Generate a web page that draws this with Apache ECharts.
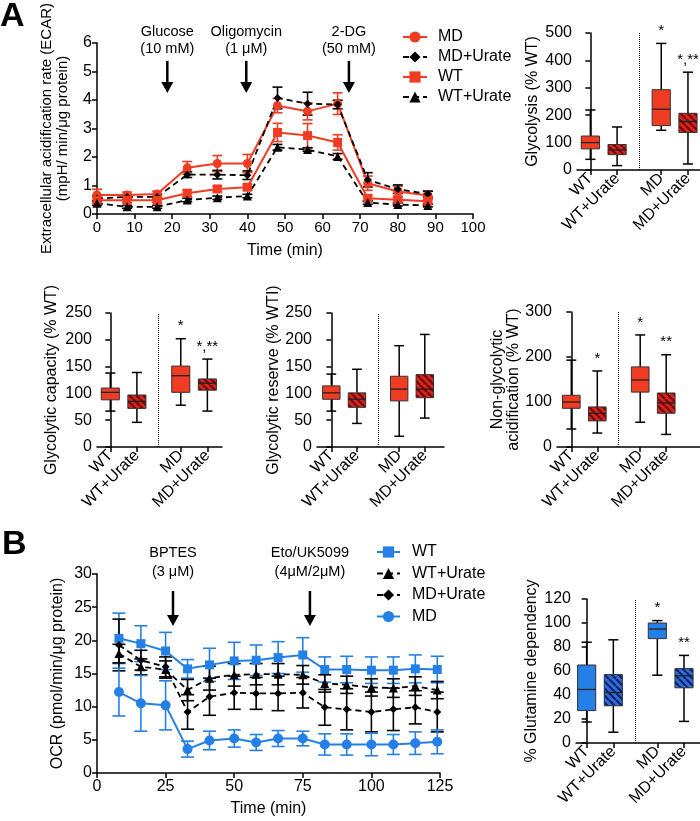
<!DOCTYPE html>
<html>
<head>
<meta charset="utf-8">
<script src="https://cdn.jsdelivr.net/npm/echarts@6.0.0/dist/echarts.min.js"></script>
<style>
html,body{margin:0;padding:0;background:#fff;}
#main{width:700px;height:821px;}
</style>
</head>
<body>
<div id="main"></div>
<script>
var FONT = '"Liberation Sans", Arial, sans-serif';
var RED = '#F03C23', BLUE = '#2580E6';

// A: ECAR time course (mpH/min/ug protein)
var ecarTime = [0, 8, 16, 24, 32, 40, 48, 56, 64, 72, 80, 88];
var ecarMD = [0.67, 0.67, 0.70, 1.62, 1.77, 1.77, 3.80, 3.60, 3.87, 1.08, 0.79, 0.65];
var ecarMDErr = [0.20, 0.10, 0.10, 0.22, 0.28, 0.32, 0.25, 0.30, 0.38, 0.25, 0.18, 0.15];
var ecarMDU = [0.54, 0.60, 0.60, 1.38, 1.38, 1.36, 4.07, 3.87, 3.84, 1.20, 0.87, 0.70];
var ecarMDUErr = [0.10, 0.08, 0.08, 0.10, 0.15, 0.15, 0.38, 0.40, 0.15, 0.25, 0.15, 0.10];
var ecarWT = [0.48, 0.48, 0.48, 0.73, 0.88, 0.94, 2.86, 2.75, 2.51, 0.55, 0.50, 0.45];
var ecarWTErr = [0.12, 0.08, 0.08, 0.12, 0.10, 0.10, 0.32, 0.42, 0.27, 0.10, 0.08, 0.08];
var ecarWTU = [0.38, 0.25, 0.25, 0.49, 0.57, 0.63, 2.34, 2.26, 2.02, 0.40, 0.33, 0.30];
var ecarWTUErr = [0.08, 0.05, 0.05, 0.06, 0.06, 0.06, 0.10, 0.06, 0.10, 0.06, 0.05, 0.05];
var ecarArrowTime = [18.7, 39.7, 67];
var ecarArrowText = [['Glucose', '(10 mM)'], ['Oligomycin', '(1 μM)'], ['2-DG', '(50 mM)']];

// B: OCR time course (pmol/min/ug protein)
var ocrTime = [8, 16, 25, 33, 41, 50, 58, 66, 75, 83, 91, 100, 108, 116, 124];
var ocrWT = [20.3, 19.5, 18.4, 15.7, 16.3, 16.9, 17.0, 17.4, 17.8, 15.6, 15.6, 15.5, 15.5, 15.7, 15.6];
var ocrWTErr = [3.8, 2.7, 2.8, 1.4, 2.5, 2.8, 2.3, 2.4, 2.6, 1.9, 2.0, 2.0, 2.0, 2.1, 2.0];
var ocrWTU = [18.0, 16.0, 15.6, 12.5, 14.3, 14.8, 14.9, 14.9, 14.8, 13.5, 13.3, 12.9, 12.8, 13.1, 12.5];
var ocrWTUErr = [1.4, 1.2, 1.3, 1.6, 1.8, 1.7, 1.6, 1.6, 1.4, 1.3, 1.3, 1.3, 1.4, 1.4, 1.3];
var ocrMDU = [19.3, 17.0, 16.0, 9.2, 11.5, 12.1, 12.0, 12.0, 12.1, 9.9, 9.6, 9.2, 9.6, 9.9, 9.2];
var ocrMDUErr = [3.9, 1.5, 1.5, 2.6, 2.8, 2.5, 2.4, 2.6, 2.3, 2.7, 3.1, 3.0, 3.2, 2.5, 3.0];
var ocrMD = [12.2, 10.5, 10.2, 3.6, 4.9, 5.2, 4.6, 5.2, 5.2, 4.3, 4.3, 4.3, 4.3, 4.5, 4.7];
var ocrMDErr = [3.6, 4.2, 3.7, 1.2, 1.4, 1.3, 1.2, 1.2, 1.1, 1.6, 1.6, 1.7, 1.5, 1.7, 1.8];
var ocrArrowTime = [27.7, 77.6];
var ocrArrowText = [['BPTES', '(3 μM)'], ['Eto/UK5099', '(4μM/2μM)']];

// box plots: [min, q1, median, q3, max] per group
var boxGroups = ['WT', 'WT+Urate', 'MD', 'MD+Urate'];
var boxPos = [0, 1, 2.65, 3.65];
var glycolysis = [[39, 77, 100, 124, 219], [16, 56, 73, 93, 157], [145, 162, 222, 293, 462], [22, 137, 177, 207, 357]];
var glycolysisStars = ['', '', '*', '*,**'];
var glycCapacity = [[67, 88, 102, 110, 138], [46, 72, 85, 97, 139], [78, 102, 133, 151, 202], [67, 106, 119, 127, 164]];
var capacityStars = ['', '', '*', '*,**'];
var glycReserve = [[67, 89, 101, 114, 136], [44, 74, 89, 101, 145], [20, 86, 108, 132, 189], [54, 92, 108, 135, 210]];
var reserveStars = ['', '', '', ''];
var nonGlyc = [[40, 86, 100, 115, 193], [31, 58, 75, 89, 169], [55, 122, 149, 178, 249], [28, 75, 98, 120, 205]];
var nonGlycStars = ['', '*', '*', '**'];
var glutDep = [[17.5, 27, 44.6, 65, 84], [9, 31, 42, 57, 86], [56.5, 87, 95, 100, 102], [18, 46, 56, 62, 73]];
var glutStars = ['', '', '*', '**'];

function hatch(base, stripe) {
    var c = document.createElement('canvas');
    c.width = 7; c.height = 7;
    var g = c.getContext('2d');
    g.fillStyle = base;
    g.fillRect(0, 0, 7, 7);
    g.strokeStyle = stripe;
    g.lineWidth = 2.2;
    g.beginPath();
    [-7, 0, 7].forEach(function (o) { g.moveTo(o, 0); g.lineTo(o + 7, 7); });
    g.stroke();
    return {image: c, repeat: 'repeat'};
}

var redFills = [RED, hatch('#D8241C', '#6E0A0A'), RED, hatch('#D8241C', '#6E0A0A')];
var blueFills = [BLUE, hatch('#2F6BDB', '#0C2466'), BLUE, hatch('#2F6BDB', '#0C2466')];

var axLine = {lineStyle: {color: '#000', width: 1.5}};
var axTick = {show: true, length: 5, lineStyle: {color: '#000', width: 1.5}};
var noSplit = {show: false};

function yAx(grid, min, max, step, name, gap, nameSize) {
    return {
        type: 'value', gridIndex: grid, min: min, max: max, interval: step,
        name: name, nameLocation: 'middle', nameRotate: 90, nameGap: gap,
        nameTextStyle: {fontSize: nameSize || 16, lineHeight: 16, color: '#000', fontFamily: FONT},
        axisLine: {show: true, lineStyle: axLine.lineStyle}, axisTick: axTick,
        axisLabel: {fontSize: 16, color: '#000', margin: 5, fontFamily: FONT},
        splitLine: noSplit
    };
}

function boxXAx(grid, min, max) {
    return {
        type: 'value', gridIndex: grid, min: min, max: max,
        axisLine: axLine,
        axisTick: {show: true, length: 5, lineStyle: {color: '#000', width: 1.5}, customValues: boxPos},
        axisLabel: {
            customValues: boxPos, rotate: 45, fontSize: 16, color: '#000', margin: 6, fontFamily: FONT,
            formatter: function (v) {
                for (var i = 0; i < boxPos.length; i++) {
                    if (Math.abs(boxPos[i] - v) < 0.01) return boxGroups[i];
                }
                return '';
            }
        },
        splitLine: noSplit
    };
}

function boxSeries(grid, stats, stars, fills) {
    return {
        type: 'custom', xAxisIndex: grid, yAxisIndex: grid, silent: true,
        data: stats.map(function (s, i) { return [boxPos[i]].concat(s); }),
        encode: {x: 0, y: [1, 2, 3, 4, 5]},
        renderItem: function (params, api) {
            var i = params.dataIndex, x = api.value(0);
            var lo = api.coord([x, api.value(1)]);
            var q1 = api.coord([x, api.value(2)]);
            var md = api.coord([x, api.value(3)]);
            var q3 = api.coord([x, api.value(4)]);
            var hi = api.coord([x, api.value(5)]);
            var hw = api.size([0.34, 0])[0], cw = api.size([0.19, 0])[0];
            var cx = lo[0];
            var ls = {stroke: '#000', lineWidth: 1.5};
            var kids = [
                {type: 'line', shape: {x1: cx, y1: hi[1], x2: cx, y2: q3[1]}, style: ls},
                {type: 'line', shape: {x1: cx, y1: q1[1], x2: cx, y2: lo[1]}, style: ls},
                {type: 'line', shape: {x1: cx - cw, y1: hi[1], x2: cx + cw, y2: hi[1]}, style: ls},
                {type: 'line', shape: {x1: cx - cw, y1: lo[1], x2: cx + cw, y2: lo[1]}, style: ls},
                {type: 'rect', shape: {x: cx - hw, y: q3[1], width: hw * 2, height: q1[1] - q3[1]},
                    style: {fill: fills[i], stroke: '#333', lineWidth: 1}},
                {type: 'line', shape: {x1: cx - hw, y1: md[1], x2: cx + hw, y2: md[1]}, style: {stroke: '#222', lineWidth: 1.3}}
            ];
            if (stars[i]) {
                kids.push({type: 'text', style: {text: stars[i], x: cx, y: hi[1] - 5, align: 'center', verticalAlign: 'bottom',
                    font: '15px ' + FONT, fill: '#000'}});
            }
            return {type: 'group', children: kids};
        },
        markLine: {
            silent: true, symbol: 'none', label: {show: false}, animation: false,
            lineStyle: {type: 'dotted', color: '#000', width: 1},
            data: [{xAxis: 1.825}]
        }
    };
}

function lineSeries(name, grid, times, vals, color, symbol, size, dashed) {
    return {
        name: name, type: 'line', xAxisIndex: grid, yAxisIndex: grid, z: 4,
        data: times.map(function (t, i) { return [t, vals[i]]; }),
        symbol: symbol, symbolSize: size, showSymbol: true,
        itemStyle: {color: color},
        lineStyle: {color: color, width: dashed ? 1.8 : 2, type: dashed ? [6, 4] : 'solid'}
    };
}

function errSeries(grid, times, vals, errs, color, cap) {
    return {
        type: 'custom', xAxisIndex: grid, yAxisIndex: grid, z: 3, silent: true,
        data: times.map(function (t, i) { return [t, vals[i] - errs[i], vals[i] + errs[i]]; }),
        encode: {x: 0, y: [1, 2]},
        renderItem: function (params, api) {
            var t = api.value(0);
            var a = api.coord([t, api.value(1)]), b = api.coord([t, api.value(2)]);
            var st = {stroke: color, lineWidth: 1.6};
            return {type: 'group', children: [
                {type: 'line', shape: {x1: a[0], y1: a[1], x2: b[0], y2: b[1]}, style: st},
                {type: 'line', shape: {x1: a[0] - cap, y1: a[1], x2: a[0] + cap, y2: a[1]}, style: st},
                {type: 'line', shape: {x1: b[0] - cap, y1: b[1], x2: b[0] + cap, y2: b[1]}, style: st}
            ]};
        }
    };
}

// drug injection arrows, offsets in px from the top of the y range
function arrowSeries(grid, times, texts, yTop, offs) {
    return {
        type: 'custom', xAxisIndex: grid, yAxisIndex: grid, silent: true, clip: false,
        data: times.map(function (t) { return [t, yTop]; }),
        renderItem: function (params, api) {
            var p = api.coord([api.value(0), api.value(1)]);
            var x = p[0], y0 = p[1], lab = texts[params.dataIndex];
            var ts = function (s, y) {
                return {type: 'text', style: {text: s, x: x, y: y, align: 'center', verticalAlign: 'middle', font: '14.5px ' + FONT, fill: '#000'}};
            };
            return {type: 'group', children: [
                ts(lab[0], y0 + offs[0]),
                ts(lab[1], y0 + offs[1]),
                {type: 'line', shape: {x1: x, y1: y0 + offs[2], x2: x, y2: y0 + offs[3] - 9}, style: {stroke: '#000', lineWidth: 2.5}},
                {type: 'polygon', shape: {points: [[x - 6, y0 + offs[3] - 11], [x + 6, y0 + offs[3] - 11], [x, y0 + offs[3]]]}, style: {fill: '#000'}}
            ]};
        }
    };
}

window.onload = function () {
    var chart = echarts.init(document.getElementById('main'));

    var option = {
        animation: false,
        textStyle: {fontFamily: FONT},
        graphic: [
            {type: 'text', left: 0, top: 0, style: {text: 'A', font: 'bold 34px ' + FONT, fill: '#000'}},
            {type: 'text', left: 2, top: 528, style: {text: 'B', font: 'bold 34px ' + FONT, fill: '#000'}}
        ],
        legend: [
            {
                data: ['MD', 'MD+Urate', 'WT', 'WT+Urate'],
                left: 397, top: 24, orient: 'vertical', itemWidth: 24, itemHeight: 14, itemGap: 4,
                textStyle: {fontSize: 16, color: '#000', padding: [0, 0, 0, 6]}
            },
            {
                data: ['B-WT', 'B-WT+Urate', 'B-MD+Urate', 'B-MD'],
                formatter: function (n) { return n.slice(2); },
                left: 371, top: 539, orient: 'vertical', itemWidth: 23, itemHeight: 14, itemGap: 5.5,
                textStyle: {fontSize: 16, color: '#000', padding: [0, 0, 0, 7]}
            }
        ],
        grid: [
            {left: 97, top: 32, right: 227, bottom: 607},
            {left: 577, top: 33, width: 123, height: 137},
            {left: 97, top: 313, width: 125, height: 134},
            {left: 317, top: 313, width: 127, height: 134},
            {left: 557, top: 312, width: 143, height: 135},
            {left: 97, top: 574, width: 343, height: 199},
            {left: 576, top: 599, width: 124, height: 144}
        ],
        xAxis: [
            {
                type: 'value', gridIndex: 0, min: 0, max: 100, interval: 10,
                name: 'Time (min)', nameLocation: 'middle', nameGap: 29,
                nameTextStyle: {fontSize: 16, color: '#000'},
                axisLine: axLine, axisTick: axTick,
                axisLabel: {fontSize: 15, color: '#000', margin: 6}, splitLine: noSplit
            },
            boxXAx(1, -0.5, 4.1),
            boxXAx(2, -0.5, 4.2),
            boxXAx(3, -0.56, 4.4),
            boxXAx(4, -0.55, 4.95),
            {
                type: 'value', gridIndex: 5, min: 0, max: 125, interval: 25,
                name: 'Time (min)', nameLocation: 'middle', nameGap: 28,
                nameTextStyle: {fontSize: 16, color: '#000'},
                axisLine: axLine, axisTick: axTick,
                axisLabel: {fontSize: 16, color: '#000', margin: 6}, splitLine: noSplit
            },
            boxXAx(6, -0.4, 4.25)
        ],
        yAxis: [
            yAx(0, 0, 6, 1, 'Extracellular acidification rate (ECAR)\n(mpH/ min/μg protein)', 26, 15),
            yAx(1, 0, 500, 100, 'Glycolysis (% WT)', 36),
            yAx(2, 0, 250, 50, 'Glycolytic capacity (% WT)', 37),
            yAx(3, 0, 250, 50, 'Glycolytic reserve (% WTI)', 26),
            yAx(4, 0, 300, 100, 'Non-glycolytic\nacidification (% WT)', 35),
            yAx(5, 0, 30, 5, 'OCR (pmol/min/μg protein)', 31),
            yAx(6, 0, 120, 20, '% Glutamine dependency', 36)
        ],
        series: [
            errSeries(0, ecarTime, ecarMD, ecarMDErr, RED, 5),
            errSeries(0, ecarTime, ecarMDU, ecarMDUErr, '#000', 5),
            errSeries(0, ecarTime, ecarWT, ecarWTErr, RED, 5),
            errSeries(0, ecarTime, ecarWTU, ecarWTUErr, '#000', 5),
            lineSeries('MD', 0, ecarTime, ecarMD, RED, 'circle', 9, false),
            lineSeries('MD+Urate', 0, ecarTime, ecarMDU, '#000', 'diamond', 8, true),
            lineSeries('WT', 0, ecarTime, ecarWT, RED, 'rect', 9, false),
            lineSeries('WT+Urate', 0, ecarTime, ecarWTU, '#000', 'triangle', 9, true),
            arrowSeries(0, ecarArrowTime, ecarArrowText, 6, [-11, 6.5, 18, 50]),

            boxSeries(1, glycolysis, glycolysisStars, redFills),
            boxSeries(2, glycCapacity, capacityStars, redFills),
            boxSeries(3, glycReserve, reserveStars, redFills),
            boxSeries(4, nonGlyc, nonGlycStars, redFills),

            errSeries(5, ocrTime, ocrWT, ocrWTErr, BLUE, 6.5),
            errSeries(5, ocrTime, ocrWTU, ocrWTUErr, '#000', 6.5),
            errSeries(5, ocrTime, ocrMDU, ocrMDUErr, '#000', 6.5),
            errSeries(5, ocrTime, ocrMD, ocrMDErr, BLUE, 6.5),
            lineSeries('B-WT', 5, ocrTime, ocrWT, BLUE, 'rect', 9, false),
            lineSeries('B-WT+Urate', 5, ocrTime, ocrWTU, '#000', 'triangle', 9, true),
            lineSeries('B-MD+Urate', 5, ocrTime, ocrMDU, '#000', 'diamond', 8, true),
            lineSeries('B-MD', 5, ocrTime, ocrMD, BLUE, 'circle', 10, false),
            arrowSeries(5, ocrArrowTime, ocrArrowText, 30, [-21, -2, 17, 52]),

            boxSeries(6, glutDep, glutStars, blueFills)
        ]
    };

    chart.setOption(option);
};
</script>
</body>
</html>
